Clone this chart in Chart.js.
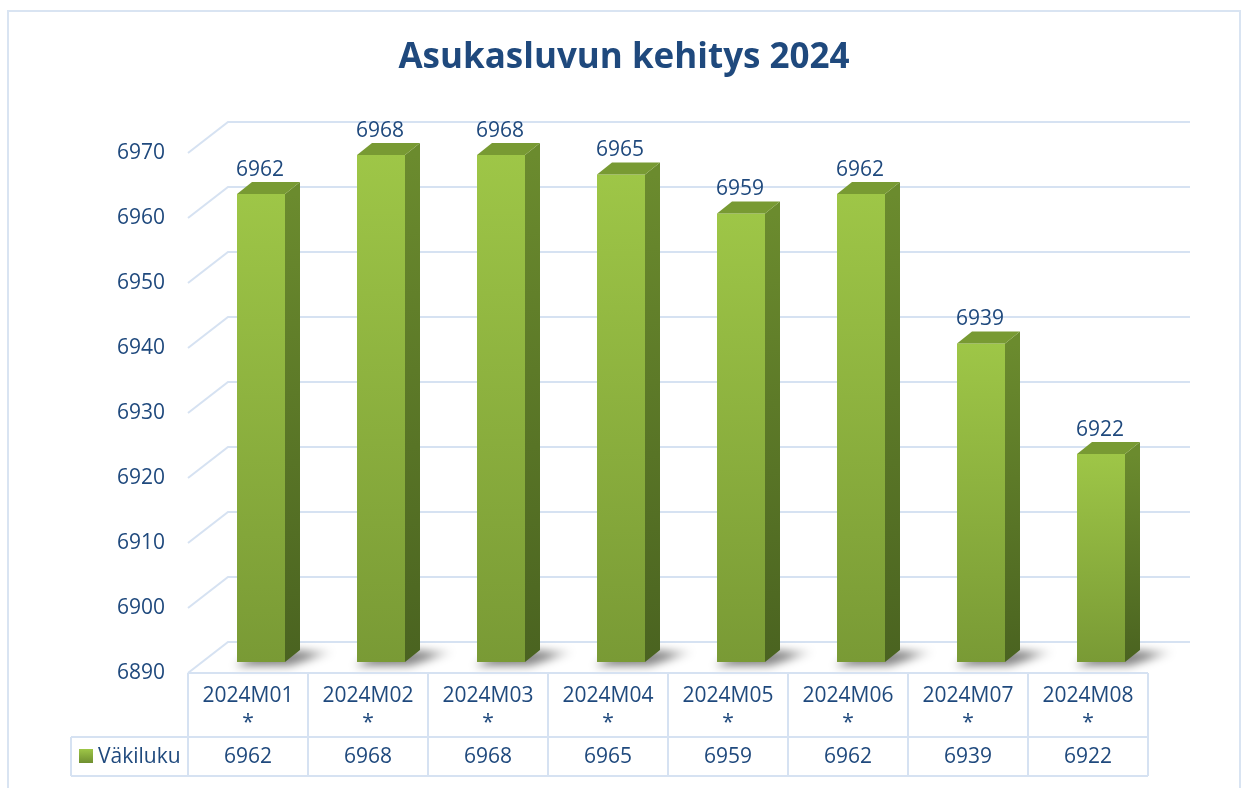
<!DOCTYPE html>
<html><head><meta charset="utf-8">
<script src="https://cdn.jsdelivr.net/npm/chart.js@4"></script>
<style>html,body{margin:0;padding:0;background:#fff;}canvas{display:block}</style>
</head><body>
<canvas id="c" width="1246" height="788"></canvas>
<script>
const chartTitle = 'Asukasluvun kehitys 2024';
const categories = ['2024M01','2024M02','2024M03','2024M04','2024M05','2024M06','2024M07','2024M08'];
const categoryNotes = ['*','*','*','*','*','*','*','*'];
const seriesName = 'Väkiluku';
const values = [6962, 6968, 6968, 6965, 6959, 6962, 6939, 6922];
const yTicks = [6890, 6900, 6910, 6920, 6930, 6940, 6950, 6960, 6970];

const TXT = '#1f497d';
const GRID = '#d6e2f2';
const FONT = "'Open Sans', 'DejaVu Sans', sans-serif";
const FRONT = {dx: -13, dy: 11};
const BACK = {dx: 27, dy: -20};
const DEPTH = {dx: 15, dy: -12};

function frontGrad(ctx, top, base) {
  const g = ctx.createLinearGradient(0, top, 0, base);
  g.addColorStop(0, '#9ec647');
  g.addColorStop(1, '#799a35');
  return g;
}

function barBase(chart) {
  return chart.scales.y.getPixelForValue(yTicks[0]);
}

const deco = {
  id: 'deco',
  beforeDraw(chart) {
    const ctx = chart.ctx;
    ctx.save();
    ctx.fillStyle = '#fff';
    ctx.fillRect(0, 0, chart.width, chart.height);
    ctx.strokeStyle = '#d9e4f2';
    ctx.lineWidth = 2;
    ctx.strokeRect(8, 11, 1232, 790);
    ctx.fillStyle = TXT;
    ctx.font = "bold 35px " + FONT;
    ctx.textAlign = 'center';
    ctx.textBaseline = 'middle';
    ctx.fillText(chartTitle, 624, 58);
    ctx.restore();
  },
  beforeDatasetsDraw(chart) {
    const ctx = chart.ctx, ys = chart.scales.y, ca = chart.chartArea;
    ctx.save();
    ctx.strokeStyle = GRID;
    ctx.lineWidth = 2;
    yTicks.forEach(v => {
      const y = ys.getPixelForValue(v);
      ctx.beginPath();
      ctx.moveTo(ca.left + FRONT.dx, y + FRONT.dy);
      ctx.lineTo(ca.left + BACK.dx, y + BACK.dy);
      ctx.lineTo(ca.right + BACK.dx + 2, y + BACK.dy);
      ctx.stroke();
    });
    // shadows on the floor
    const meta = chart.getDatasetMeta(0);
    const b = barBase(chart);
    meta.data.forEach(el => {
      const x0 = el.x - el.width / 2, x1 = el.x + el.width / 2;
      ctx.save();
      ctx.filter = 'blur(4px)';
      const sg = ctx.createLinearGradient(x0, 0, x1 + DEPTH.dx + 34, 0);
      sg.addColorStop(0, 'rgba(0,0,0,0.5)');
      sg.addColorStop(0.7, 'rgba(0,0,0,0.45)');
      sg.addColorStop(1, 'rgba(0,0,0,0.05)');
      ctx.fillStyle = sg;
      ctx.beginPath();
      ctx.moveTo(x0 - 2, b + 4);
      ctx.lineTo(x1 + 4, b + 4);
      ctx.lineTo(x1 + DEPTH.dx + 34, b + DEPTH.dy + 2);
      ctx.lineTo(x0 + DEPTH.dx + 14, b + DEPTH.dy - 1);
      ctx.closePath();
      ctx.fill();
      ctx.restore();
    });
    ctx.restore();
  },
  afterDatasetsDraw(chart) {
    const ctx = chart.ctx, xs = chart.scales.x, ca = chart.chartArea;
    const meta = chart.getDatasetMeta(0);
    const b = barBase(chart);
    ctx.save();
    meta.data.forEach((el, i) => {
      const x0 = el.x - el.width / 2, x1 = el.x + el.width / 2, t = el.y;
      // side face
      const gs = ctx.createLinearGradient(0, t, 0, b);
      gs.addColorStop(0, '#6b8b2e');
      gs.addColorStop(1, '#4a6320');
      ctx.fillStyle = gs;
      ctx.beginPath();
      ctx.moveTo(x1, t);
      ctx.lineTo(x1 + DEPTH.dx, t + DEPTH.dy);
      ctx.lineTo(x1 + DEPTH.dx, b + DEPTH.dy);
      ctx.lineTo(x1, b);
      ctx.closePath();
      ctx.fill();
      // top face
      ctx.fillStyle = '#789a33';
      ctx.beginPath();
      ctx.moveTo(x0, t);
      ctx.lineTo(x0 + DEPTH.dx, t + DEPTH.dy);
      ctx.lineTo(x1 + DEPTH.dx, t + DEPTH.dy);
      ctx.lineTo(x1, t);
      ctx.closePath();
      ctx.fill();
      // data label
      ctx.fillStyle = TXT;
      ctx.font = "21px " + FONT;
      ctx.textAlign = 'center';
      ctx.textBaseline = 'middle';
      ctx.fillText(String(values[i]), el.x - 1, t - 24);
    });

    // data table
    const step = xs.getPixelForValue(1) - xs.getPixelForValue(0);
    const half = step / 2;
    const tTop = ca.bottom + FRONT.dy;
    const tMid = tTop + 64;
    const tBot = tMid + 39;
    const tLeft = xs.getPixelForValue(0) - half + FRONT.dx;
    const tRight = xs.getPixelForValue(categories.length - 1) + half + FRONT.dx;
    const legLeft = 71;
    ctx.strokeStyle = GRID;
    ctx.lineWidth = 2;
    ctx.beginPath();
    ctx.moveTo(tLeft, tTop); ctx.lineTo(tRight, tTop);
    ctx.moveTo(legLeft, tMid); ctx.lineTo(tRight, tMid);
    ctx.moveTo(legLeft, tBot); ctx.lineTo(tRight, tBot);
    ctx.moveTo(legLeft, tMid); ctx.lineTo(legLeft, tBot);
    for (let i = 0; i <= categories.length; i++) {
      const x = xs.getPixelForValue(0) - half + FRONT.dx + i * step;
      ctx.moveTo(x, tTop); ctx.lineTo(x, tBot);
    }
    ctx.stroke();

    ctx.fillStyle = TXT;
    ctx.font = "21px " + FONT;
    ctx.textAlign = 'center';
    ctx.textBaseline = 'middle';
    categories.forEach((c, i) => {
      const cx = xs.getPixelForValue(i) + FRONT.dx;
      ctx.fillText(c, cx, tTop + 23);
      ctx.fillText(categoryNotes[i], cx, tTop + 50);
      ctx.fillText(String(values[i]), cx, tMid + 20);
    });
    // legend key
    const lg = ctx.createLinearGradient(0, tMid + 12, 0, tMid + 26);
    lg.addColorStop(0, '#9ec647');
    lg.addColorStop(1, '#6f8f30');
    ctx.fillStyle = lg;
    ctx.fillRect(79, tMid + 12, 14, 14);
    ctx.fillStyle = TXT;
    ctx.textAlign = 'left';
    ctx.fillText(seriesName, 98, tMid + 20);
    ctx.restore();
  }
};

new Chart(document.getElementById('c'), {
  type: 'bar',
  data: {
    labels: categories,
    datasets: [{
      label: seriesName,
      data: values,
      borderWidth: 0,
      barPercentage: 0.4,
      categoryPercentage: 1.0,
      backgroundColor: (c) => {
        const ch = c.chart;
        if (!ch.chartArea || !ch.scales.y || c.parsed == null) return '#8bb33e';
        const ys = ch.scales.y;
        return frontGrad(ch.ctx, ys.getPixelForValue(c.parsed.y), ys.getPixelForValue(yTicks[0]));
      }
    }]
  },
  options: {
    responsive: false,
    animation: false,
    layout: {padding: {top: 142, bottom: 126, right: 85, left: 0}},
    plugins: {legend: {display: false}, tooltip: {enabled: false}, title: {display: false}},
    scales: {
      x: {display: false},
      y: {
        min: yTicks[0],
        max: yTicks[yTicks.length - 1],
        afterFit(s) { s.width = 201; },
        afterBuildTicks(s) { s.ticks = yTicks.map(v => ({value: v})); },
        grid: {display: false, drawTicks: false},
        border: {display: false},
        ticks: {
          color: TXT,
          font: {family: FONT, size: 21},
          padding: 36,
          labelOffset: 11,
          callback: (v) => String(v)
        }
      }
    }
  },
  plugins: [deco]
});
</script>
</body></html>
